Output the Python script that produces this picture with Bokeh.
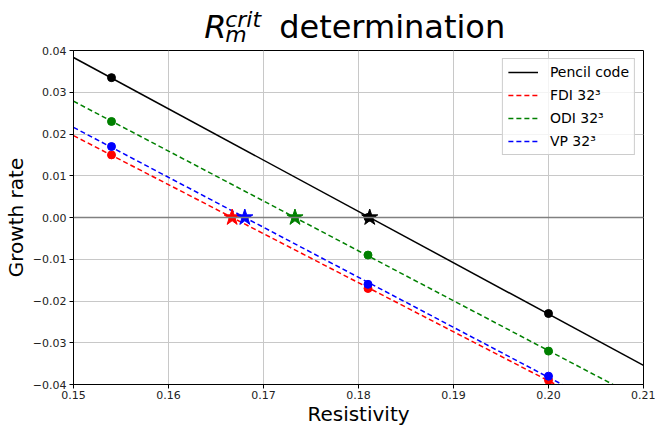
import numpy as np
from bokeh.plotting import figure
from bokeh.layouts import column
from bokeh.models import (Range1d, FixedTicker, CustomJSTickFormatter, Span,
                          Legend, LegendItem)
from bokeh.core.properties import value
from bokeh.embed import file_html
from bokeh.resources import INLINE

# Measured growth rates at three resistivities for each code
resistivity = [0.154, 0.181, 0.200]
pencil_growth = [0.0335, 0.0000, -0.0230]
fdi_growth = [0.0150, -0.0170, -0.0390]
odi_growth = [0.0230, -0.0090, -0.0320]
vp_growth = [0.0170, -0.0160, -0.0380]

series_names = ["Pencil code", "FDI 32\u00b3", "ODI 32\u00b3", "VP 32\u00b3"]
series_values = [pencil_growth, fdi_growth, odi_growth, vp_growth]
series_colors = ["#000000", "#ff0000", "#008000", "#0000ff"]
series_dash = ["solid", "5 3", "5 3", "5 3"]

x_limits = [0.15, 0.21]
y_limits = [-0.04, 0.04]
x_ticks = [0.15, 0.16, 0.17, 0.18, 0.19, 0.20, 0.21]
y_ticks = [-0.04, -0.03, -0.02, -0.01, 0.00, 0.01, 0.02, 0.03, 0.04]

FONT = "DejaVu Sans"
W = 655
TITLE_H = 46
LEFT, RIGHT = 72, 12

# ---- title strip: R_m^crit determination, drawn as text pieces ----
# strip coordinates: x in page pixels, y in pixels measured up from the strip bottom
t = figure(width=W, height=TITLE_H, output_backend="svg", toolbar_location=None,
           x_range=Range1d(LEFT, W - RIGHT), y_range=Range1d(0, TITLE_H),
           min_border_left=LEFT, min_border_right=RIGHT,
           min_border_top=0, min_border_bottom=0, title=None)
t.axis.visible = False
t.grid.visible = False
t.outline_line_color = None
t.border_fill_color = "white"
t.background_fill_color = "white"

def title_piece(txt, x, top_px, size_px, style):
    # top_px: wanted baseline in pixels from the top of the page; the text
    # box is anchored slightly above the glyph baseline, hence the 0.29 em lift
    y = TITLE_H - (top_px - 0.29 * size_px)
    t.text(x=[x], y=[y], text=[txt], text_font=value(FONT),
           text_font_size=value(f"{size_px}px"), text_font_style=value(style),
           text_color=value("black"), text_baseline=value("alphabetic"),
           text_align=value("left"))

title_piece("R", 203, 36, 32, "italic")
title_piece("crit", 224, 25, 22, "italic")
title_piece("m", 224, 40, 22, "italic")
title_piece("determination", 278, 36, 32, "normal")

# ---- main chart ----
p = figure(width=W, height=428 - TITLE_H, output_backend="svg", toolbar_location=None,
           x_range=Range1d(*x_limits), y_range=Range1d(*y_limits), title=None,
           min_border_left=LEFT, min_border_right=RIGHT, min_border_top=4,
           min_border_bottom=40)
p.outline_line_color = "black"
p.outline_line_width = 1
p.outline_line_alpha = 1
p.background_fill_color = "white"
p.border_fill_color = "white"

fmt = CustomJSTickFormatter(code="return tick.toFixed(2).replace('-', '\\u2212');")
for ax, ticks, label in ((p.xaxis[0], x_ticks, "Resistivity"),
                         (p.yaxis[0], y_ticks, "Growth rate")):
    ax.ticker = FixedTicker(ticks=ticks)
    ax.formatter = fmt
    ax.axis_label = label
    ax.axis_label_text_font = FONT
    ax.axis_label_text_font_size = "20px"
    ax.axis_label_text_font_style = "normal"
    ax.axis_label_text_color = "black"
    ax.major_label_text_font = FONT
    ax.major_label_text_font_size = "11px"
    ax.major_label_text_color = "#222222"
    ax.major_tick_in = 0
    ax.major_tick_out = 4
    ax.minor_tick_in = 0
    ax.minor_tick_out = 0
    ax.axis_line_color = "black"
    ax.major_tick_line_color = "black"

p.xaxis.axis_label_standoff = 0
p.xaxis.major_label_standoff = 2
p.yaxis.axis_label_standoff = 2
p.yaxis.major_label_standoff = 3

p.xgrid.grid_line_color = "#c8c8c8"
p.ygrid.grid_line_color = "#c8c8c8"
p.xgrid.grid_line_width = 1
p.ygrid.grid_line_width = 1

p.add_layout(Span(location=0, dimension="width", line_color="#808080",
                  line_width=1.5))

# Linear fit per code, extended over the whole axis range; the root of
# each fit gives the critical resistivity (star marker).
items = []
roots = []
for name, vals, col, dash in zip(series_names, series_values, series_colors, series_dash):
    slope, icpt = np.polyfit(resistivity, vals, 1)
    xs = np.array(x_limits)
    r = p.line(xs, slope * xs + icpt, line_color=col, line_width=1.5, line_dash=dash)
    items.append(LegendItem(label=name, renderers=[r]))
    roots.append(-icpt / slope)

for vals, col in zip(series_values, series_colors):
    p.scatter(resistivity, vals, size=8, fill_color=col, line_color=col)

for root, col in zip(roots, series_colors):
    p.scatter([root], [0.0], marker="star", size=17, fill_color=col, line_color=col)

legend = Legend(items=items, location="top_right", label_text_font=FONT,
                label_text_font_size="14px", label_text_color="black",
                glyph_width=30, glyph_height=16,
                label_standoff=12, spacing=7, padding=5, margin=8,
                border_line_color="#cccccc", border_line_alpha=1,
                background_fill_alpha=0.8)
p.add_layout(legend)

layout = column(t, p, spacing=0)
open("out.html", "w").write(file_html(layout, INLINE))
